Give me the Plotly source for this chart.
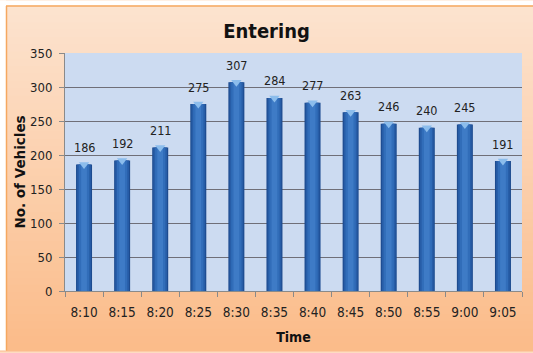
import plotly.graph_objects as go

# Vehicles entering per 5-minute interval
times = ["8:10", "8:15", "8:20", "8:25", "8:30", "8:35", "8:40", "8:45", "8:50", "8:55", "9:00", "9:05"]
vehicles = [186, 192, 211, 275, 307, 284, 277, 263, 246, 240, 245, 191]
y_ticks = [0, 50, 100, 150, 200, 250, 300, 350]

W, H = 533, 353
ML, MR, MT, MB = 65, 11, 53, 60
PW, PH = W - ML - MR, H - MT - MB
NARROW = "DejaVu Sans Condensed, Liberation Sans Narrow, Arial Narrow, sans-serif"

fig = go.Figure()

# Cylinder-like bars: stacked overlays from dark edges to a lighter core
layers = [(0.42, "#1d4b8f"), (0.36, "#275da7"), (0.27, "#316db9"), (0.15, "#3e7bc6")]
for w, c in layers:
    fig.add_trace(go.Bar(x=times, y=vehicles, width=w, marker=dict(color=c, line=dict(width=0)),
                         hoverinfo="skip", showlegend=False))

# Light cap on top of each column
fig.add_trace(go.Scatter(x=times, y=vehicles, mode="markers",
                         marker=dict(symbol="triangle-down", size=9, color="#8cbdec",
                                     line=dict(width=0)),
                         hoverinfo="skip", showlegend=False))

# Value labels above each column
for t, v in zip(times, vehicles):
    fig.add_annotation(x=t, y=v, text=str(v), showarrow=False, yshift=17,
                       font=dict(family=NARROW, size=12.5, color="#222222"))


def px_to_paper_x(px):
    return (px - ML) / PW


def px_to_paper_y(py):
    return (H - MB - py) / PH


# Peach background with a soft vertical gradient
top = (253, 228, 208)
bot = (251, 188, 138)
n = 48
for i in range(n):
    f = i / (n - 1)
    col = tuple(int(top[k] + (bot[k] - top[k]) * f) for k in range(3))
    py0 = i * H / n
    py1 = (i + 1) * H / n + 1
    fig.add_shape(type="rect", xref="paper", yref="paper",
                  x0=px_to_paper_x(0), x1=px_to_paper_x(W),
                  y0=px_to_paper_y(py1), y1=px_to_paper_y(py0),
                  fillcolor="rgb(%d,%d,%d)" % col, line=dict(width=0), layer="below")

# Plot area fill
fig.add_shape(type="rect", xref="paper", yref="paper", x0=0, x1=1, y0=0, y1=1,
              fillcolor="#ccdbf1", line=dict(width=0), layer="below")

fig.update_layout(
    width=W, height=H,
    margin=dict(l=ML, r=MR, t=MT, b=MB),
    paper_bgcolor="#fddcc2",
    plot_bgcolor="#ccdbf1",
    barmode="overlay",
    title=dict(text="<b>Entering</b>", x=0.5, xanchor="center", y=1 - 31 / H, yanchor="middle",
               font=dict(family=NARROW, size=20, color="#111111")),
    xaxis=dict(type="category", tickson="boundaries", ticks="outside", ticklen=5,
               tickcolor="#8a8a8a", showline=True, linecolor="#8a8a8a", linewidth=1,
               showgrid=False, range=[-0.5, 11.5], ticklabelstandoff=9,
               tickfont=dict(family=NARROW, size=13.5, color="#222222"),
               title=dict(text="<b>Time</b>", standoff=12,
                          font=dict(family=NARROW, size=14, color="#111111"))),
    yaxis=dict(range=[0, 350], tickvals=y_ticks, ticks="outside", ticklen=5,
               tickcolor="#8a8a8a", showline=True, linecolor="#8a8a8a",
               showgrid=True, gridcolor="#6f6f78", gridwidth=1, zeroline=False,
               ticklabelstandoff=4,
               tickfont=dict(family=NARROW, size=13, color="#222222"),
               title=dict(text="<b>No. of Vehicles</b>", standoff=1,
                          font=dict(family="DejaVu Sans, Verdana, sans-serif",
                                    size=13.5, color="#111111"))),
)

# White strip and orange frame line along the top and left
fig.add_shape(type="rect", xref="paper", yref="paper",
              x0=px_to_paper_x(0), x1=px_to_paper_x(W), y0=px_to_paper_y(5), y1=px_to_paper_y(0),
              fillcolor="white", line=dict(width=0), layer="above")
fig.add_shape(type="line", xref="paper", yref="paper",
              x0=px_to_paper_x(6), x1=px_to_paper_x(W), y0=px_to_paper_y(5.5), y1=px_to_paper_y(5.5),
              line=dict(color="#f5a860", width=1.5), layer="above")
fig.add_shape(type="rect", xref="paper", yref="paper",
              x0=px_to_paper_x(0), x1=px_to_paper_x(6), y0=px_to_paper_y(H), y1=px_to_paper_y(0),
              fillcolor="white", line=dict(width=0), layer="above")
fig.add_shape(type="line", xref="paper", yref="paper",
              x0=px_to_paper_x(6.5), x1=px_to_paper_x(6.5), y0=px_to_paper_y(H), y1=px_to_paper_y(5.5),
              line=dict(color="#f5a860", width=1.5), layer="above")

fig.write_html("out.html")
